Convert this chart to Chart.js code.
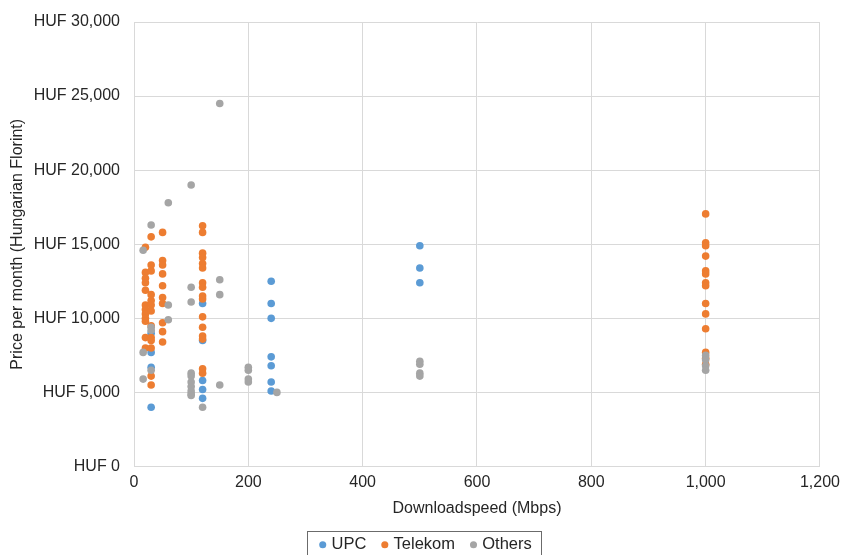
<!DOCTYPE html>
<html>
<head>
<meta charset="utf-8">
<script src="https://cdn.jsdelivr.net/npm/chart.js@4/dist/chart.umd.min.js"></script>
<style>
  body { margin: 0; background: #fff; }
  #wrap { width: 846px; height: 555px; }
</style>
</head>
<body>
<div id="wrap"><canvas id="chart" width="846" height="555"></canvas></div>
<script>
// Speed (Mbps) and monthly price (HUF) per provider
const upcSpeed = [30, 30, 30, 30, 120, 120, 120, 120, 120, 240, 240, 240, 240, 240, 240, 240, 500, 500, 500];
const upcPrice = [9000, 7700, 6700, 4000, 11000, 8500, 5800, 5200, 4600, 12500, 11000, 10000, 7400, 6800, 5700, 5100, 14900, 13400, 12400];

const telekomSpeed = [
  20, 20, 20, 20, 20, 20, 20, 20, 20, 20, 20, 20,
  30, 30, 30, 30, 30, 30, 30, 30, 30, 30, 30, 30, 30,
  50, 50, 50, 50, 50, 50, 50, 50, 50, 50,
  120, 120, 120, 120, 120, 120, 120, 120, 120, 120, 120, 120, 120, 120, 120, 120,
  1000, 1000, 1000, 1000, 1000, 1000, 1000, 1000, 1000, 1000, 1000, 1000, 1000, 1000
];
const telekomPrice = [
  14800, 13100, 12700, 12400, 11900, 10900, 10600, 10300, 10000, 9800, 8700, 8000,
  15500, 13600, 13200, 11600, 11200, 10900, 10500, 9500, 8700, 8000, 6100, 5500, 8500,
  15800, 13900, 13600, 13000, 12200, 11400, 11000, 9700, 9100, 8400,
  16250, 15800, 14400, 14100, 13700, 13400, 12400, 12100, 11500, 11300, 10100, 9400, 8800, 8600, 6600, 6300,
  17050, 15100, 14900, 14200, 13200, 13000, 12400, 12200, 11000, 10300, 9300, 7700, 7300, 6900
];

const othersSpeed = [
  16, 16, 16, 30, 30, 30, 30, 60, 60, 60,
  100, 100, 100, 100, 100, 100, 100, 100, 100, 100,
  120, 150, 150, 150, 150, 200, 200, 200, 200, 250,
  500, 500, 500, 500, 1000, 1000, 1000, 1000
];
const othersPrice = [
  14600, 7700, 5900, 16300, 9400, 9200, 6500, 17800, 10900, 9900,
  19000, 12100, 11100, 6300, 6100, 5700, 5400, 5100, 4900, 4800,
  4000, 24500, 12600, 11600, 5500, 6700, 6500, 5900, 5700, 5000,
  7100, 6900, 6300, 6100, 7500, 7200, 6800, 6500
];

const seriesNames = ["UPC", "Telekom", "Others"];
const seriesColors = ["#5B9BD5", "#ED7D31", "#A5A5A5"];

const toPoints = (xs, ys) => xs.map((x, i) => ({ x: x, y: ys[i] }));

// Nudge the legend a little right and draw a thin frame round it
const legendFrame = {
  id: "legendFrame",
  afterLayout(chart) {
    if (!chart.legend) return;
    chart.legend.left += 16;
    chart.legend.right += 16;
  },
  afterDraw(chart) {
    const boxes = chart.legend && chart.legend.legendHitBoxes;
    if (!boxes || !boxes.length) return;
    const left = Math.min(...boxes.map((b) => b.left)) - 15;
    const right = Math.max(...boxes.map((b) => b.left + b.width)) + 9;
    const top = Math.min(...boxes.map((b) => b.top)) - 6;
    const ctx = chart.ctx;
    ctx.save();
    ctx.strokeStyle = "#6b6b6b";
    ctx.lineWidth = 1;
    ctx.strokeRect(Math.round(left) + 0.5, Math.round(top) + 0.5, Math.round(right - left), 60);
    ctx.restore();
  },
};

const fontFamily = "'Liberation Sans', Arial, sans-serif";
const textColor = "#262626";

const datasets = [
  toPoints(upcSpeed, upcPrice),
  toPoints(telekomSpeed, telekomPrice),
  toPoints(othersSpeed, othersPrice),
].map((data, i) => ({
  label: seriesNames[i],
  data: data,
  backgroundColor: seriesColors[i],
  borderColor: seriesColors[i],
  borderWidth: 0,
  pointRadius: 3.8,
  pointHoverRadius: 4,
  order: 3 - i, // later series on top, like the original
}));

new Chart(document.getElementById("chart"), {
  type: "scatter",
  data: { datasets: datasets },
  plugins: [legendFrame],
  options: {
    responsive: false,
    animation: false,
    devicePixelRatio: 1,
    layout: { padding: { top: 4, right: 24, left: 0, bottom: -8 } },
    plugins: {
      tooltip: { enabled: false },
      legend: {
        position: "bottom",
        labels: {
          usePointStyle: true,
          pointStyle: "circle",
          boxWidth: 1,
          boxHeight: 5,
          padding: 18,
          color: textColor,
          font: { family: fontFamily, size: 16.5 },
          sort: (a, b) => a.datasetIndex - b.datasetIndex,
        },
      },
    },
    scales: {
      x: {
        type: "linear",
        min: 0,
        max: 1200,
        ticks: {
          stepSize: 200,
          padding: 6,
          color: textColor,
          font: { family: fontFamily, size: 16 },
          callback: (v) => v.toLocaleString("en-US"),
        },
        grid: { color: "#d9d9d9", drawTicks: false },
        border: { color: "#d9d9d9" },
        title: {
          display: true,
          text: "Downloadspeed (Mbps)",
          color: textColor,
          font: { family: fontFamily, size: 16 },
          padding: { top: 7, bottom: 0 },
        },
        afterFit: (scale) => { scale.height = 52; },
      },
      y: {
        min: 0,
        max: 30000,
        ticks: {
          stepSize: 5000,
          padding: 14,
          color: textColor,
          font: { family: fontFamily, size: 16, lineHeight: 1 },
          callback: (v) => "HUF " + v.toLocaleString("en-US"),
        },
        grid: { color: "#d9d9d9", drawTicks: false },
        border: { color: "#d9d9d9" },
        title: {
          display: true,
          text: "Price per month (Hungarian Florint)",
          color: textColor,
          font: { family: fontFamily, size: 16 },
          padding: { top: 8, bottom: 0 },
        },
        afterFit: (scale) => { scale.width = 134; },
      },
    },
  },
});
</script>
</body>
</html>
